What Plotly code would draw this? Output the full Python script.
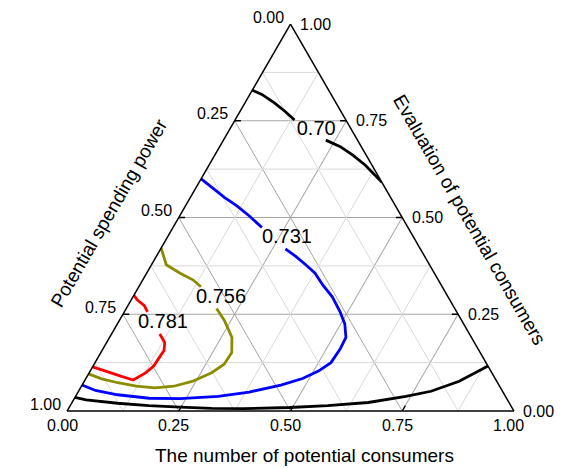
import plotly.graph_objects as go

# Ternary components: E = evaluation of potential consumers (top vertex),
# S = potential spending power (bottom-left), N = number of potential consumers (bottom-right)
# Only E and N are listed; plotly completes S = 1 - E - N.

# contour 0.70 (upper black)
c070_top_E = [0.829, 0.818, 0.796, 0.774, 0.752, None, 0.700, 0.683, 0.661, 0.635, 0.592]
c070_top_N = [0.000, 0.027, 0.066, 0.101, 0.133, None, 0.229, 0.270, 0.309, 0.350, 0.408]

# contour 0.70 (lower black)
c070_bot_E = [0.035, 0.029, 0.020, 0.014, 0.010, 0.007, 0.006, 0.009, 0.014, 0.022, 0.038, 0.051, 0.077, 0.099, 0.116]
c070_bot_N = [0.000, 0.028, 0.103, 0.176, 0.248, 0.320, 0.391, 0.494, 0.576, 0.663, 0.739, 0.789, 0.839, 0.864, 0.884]

# contour 0.731 (blue)
c731_E = [0.600, 0.578, 0.552, 0.530, 0.504, 0.474, None, 0.419, 0.399, 0.378, 0.356, 0.325, 0.295,
          0.256, 0.225, 0.190, 0.160, 0.125, 0.103, 0.084, 0.067, 0.049, 0.038, 0.032, 0.033, 0.042, 0.053, 0.067]
c731_N = [0.000, 0.035, 0.076, 0.115, 0.156, 0.199, None, 0.279, 0.313, 0.345, 0.377, 0.410, 0.446,
          0.483, 0.509, 0.529, 0.531, 0.528, 0.511, 0.485, 0.445, 0.383, 0.319, 0.237, 0.167, 0.092, 0.037, 0.000]

# contour 0.756 (olive)
c756_E = [0.421, 0.378, 0.356, 0.339, 0.321, None, 0.265, 0.234, 0.190, 0.151, 0.121, 0.099, 0.077,
          0.064, 0.060, 0.064, 0.073, 0.083, 0.096]
c756_N = [0.000, 0.033, 0.075, 0.112, 0.139, None, 0.202, 0.235, 0.274, 0.293, 0.291, 0.274, 0.243,
          0.207, 0.167, 0.123, 0.077, 0.036, 0.000]

# contour 0.781 (red)
c781_E = [0.299, 0.286, 0.273, 0.256, None, 0.199, 0.177, 0.156, 0.134, 0.116, 0.099, 0.080, 0.090, 0.101, 0.114]
c781_N = [0.000, 0.015, 0.036, 0.052, None, 0.108, 0.130, 0.139, 0.137, 0.136, 0.127, 0.108, 0.075, 0.041, 0.000]

# contour labels
label_text = ["0.70", "0.731", "0.756", "0.781"]
label_E = [0.725, 0.446, 0.291, 0.227]
label_N = [0.195, 0.269, 0.199, 0.101]

# axis ticks (value shown on each edge)
tick_values = [0.0, 0.25, 0.5, 0.75, 1.0]
tick_labels = ["0.00", "0.25", "0.50", "0.75", "1.00"]
minor_ticks = [0.125, 0.375, 0.625, 0.875]

FONT = "Liberation Sans, Arial, sans-serif"
W, H = 565, 460  # page body adds an 8px margin inside the 573x468 window
TRI_H = 387.0
TRI_W = TRI_H * 2 / 3 ** 0.5
CX, BOTTOM = 282.5, 403.0
DOM_X = [(CX - TRI_W / 2) / W, (CX + TRI_W / 2) / W]
DOM_Y = [(H - BOTTOM) / H, (H - BOTTOM + TRI_H) / H]


def tern_to_paper(e, n):
    # domain is sized to be exactly the equilateral triangle
    return (DOM_X[0] + (DOM_X[1] - DOM_X[0]) * (n + e / 2),
            DOM_Y[0] + (DOM_Y[1] - DOM_Y[0]) * e)


fig = go.Figure()

# minor grid lines
for v in minor_ticks:
    for a_pts, c_pts in (([v, v], [0, 1 - v]), ([1 - v, 0], [0, 1 - v]), ([1 - v, 0], [v, v])):
        fig.add_trace(go.Scatterternary(a=a_pts, c=c_pts, mode="lines",
                                        line=dict(color="#d9d9d9", width=1),
                                        hoverinfo="skip", showlegend=False))

# short inner tick marks at the labelled values
TL = 0.014
for v in tick_values[1:-1]:
    for a_pts, c_pts in (([1 - v, 1 - v], [0, TL]),          # left edge
                         ([v, v], [1 - v, 1 - v - TL]),      # right edge
                         ([0, TL], [v, v])):                 # bottom edge
        fig.add_trace(go.Scatterternary(a=a_pts, c=c_pts, mode="lines",
                                        line=dict(color="black", width=1.3),
                                        hoverinfo="skip", showlegend=False))

curves = [
    (c070_top_E, c070_top_N, "black"),
    (c070_bot_E, c070_bot_N, "black"),
    (c731_E, c731_N, "#0000ff"),
    (c756_E, c756_N, "#8c8c00"),
    (c781_E, c781_N, "#ff0000"),
]
for e, n, col in curves:
    fig.add_trace(go.Scatterternary(a=e, c=n, mode="lines", connectgaps=False,
                                    line=dict(color=col, width=2.8),
                                    showlegend=False))

fig.add_trace(go.Scatterternary(a=label_E, c=label_N, mode="text", text=label_text,
                                textfont=dict(family=FONT, size=20, color="black"),
                                showlegend=False))

# tick labels as annotations anchored at the edge points
tick_font = dict(family=FONT, size=16, color="black")
annotations = []
for v, t in zip(tick_values, tick_labels):
    # left edge: potential spending power (0 at top, 1 at bottom-left)
    x, y = tern_to_paper(1 - v, 0)
    annotations.append(dict(text=t, x=x, y=y, xshift=-22, yshift=7))
    # right edge: evaluation of potential consumers (1 at top, 0 at bottom-right)
    x, y = tern_to_paper(v, 1 - v)
    annotations.append(dict(text=t, x=x, y=y, xshift=25, yshift=0))
    # bottom edge: number of potential consumers (0 at left, 1 at right)
    x, y = tern_to_paper(0, v)
    annotations.append(dict(text=t, x=x, y=y, xshift=-5, yshift=-14))
for an in annotations:
    an.update(xref="paper", yref="paper", showarrow=False, xanchor="center",
              yanchor="middle", font=tick_font)

title_font = dict(family=FONT, size=19, color="black")
annotations += [
    dict(text="Potential spending power", x=0.1779, y=0.5541, textangle=-60),
    dict(text="Evaluation of potential consumers", x=0.8165, y=0.540, textangle=60),
    dict(text="The number of potential consumers", x=0.5239, y=0.0261),
]
for an in annotations[-3:]:
    an.update(xref="paper", yref="paper", showarrow=False, xanchor="center",
              yanchor="middle", font=title_font)

axis_common = dict(
    tickmode="array", tickvals=tick_values, showticklabels=False,
    showgrid=True, gridcolor="#a6a6a6", gridwidth=1,
    linecolor="black", linewidth=1.5, showline=True,
    ticks="", title=dict(text=""), min=0,
)

fig.update_layout(
    width=W, height=H,
    margin=dict(l=0, r=0, t=0, b=0),
    paper_bgcolor="white",
    showlegend=False,
    ternary=dict(
        sum=1,
        bgcolor="white",
        domain=dict(x=DOM_X, y=DOM_Y),
        aaxis=axis_common,
        baxis=axis_common,
        caxis=axis_common,
    ),
    annotations=annotations,
)

fig.write_html("out.html")
